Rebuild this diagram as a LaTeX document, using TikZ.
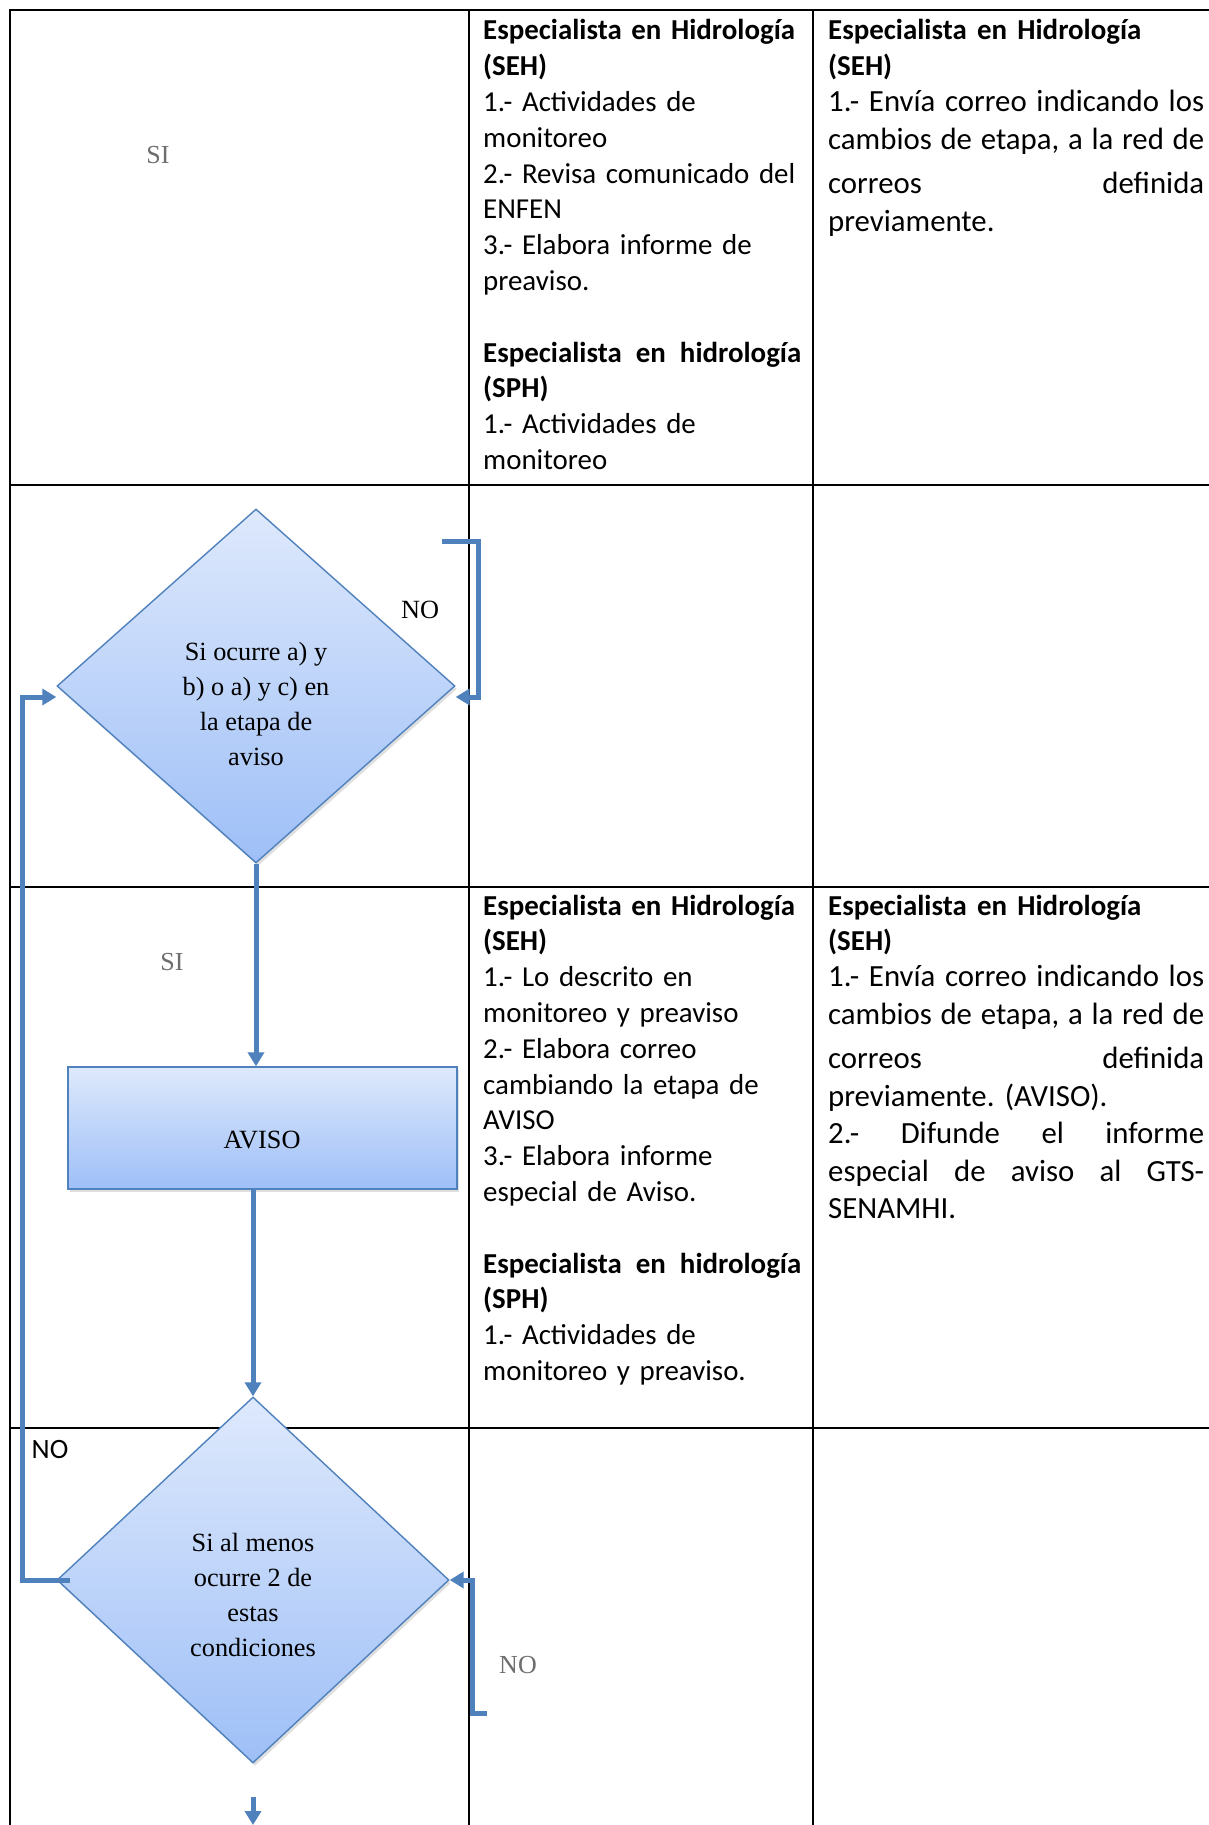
\documentclass[tikz,border=0pt]{standalone}
\usepackage{fontspec}
\setmainfont{Liberation Serif}
\newfontfamily\cellfont{Carlito}
\usetikzlibrary{arrows.meta,shapes.geometric,shadows}
\definecolor{flowblue}{RGB}{79,129,189}
\definecolor{shadetop}{RGB}{222,233,252}
\definecolor{shadebot}{RGB}{158,191,247}
\definecolor{labelgray}{RGB}{110,110,110}
\newcommand{\headline}[1]{{\fontsize{28.9pt}{37.5pt}\selectfont\bfseries #1}}
\begin{document}
\begin{tikzpicture}[x=1pt,y=-1pt,
  tableline/.style={line width=2.6pt},
  flow/.style={flowblue,line width=5pt,-{Triangle[length=14pt,width=16pt]}},
  shapefill/.style={draw=flowblue,line width=1.4pt,top color=shadetop,bottom color=shadebot,
    drop shadow={opacity=0.25,shadow xshift=2pt,shadow yshift=-3pt}},
  decision/.style={shapefill,diamond,inner sep=0pt},
  process/.style={shapefill,rectangle,inner sep=0pt,minimum width=389pt,minimum height=122pt},
  cell/.style={anchor=base west,inner sep=0pt,font={\cellfont\fontsize{28.9pt}{35.8pt}\selectfont\frenchspacing}},
  note/.style={cell,text width=376pt,font={\cellfont\fontsize{30.8pt}{37.5pt}\selectfont\frenchspacing}},
  serif/.style={inner sep=0pt,align=center,font={\fontsize{26.3pt}{35pt}\selectfont}},
  tag/.style={inner sep=0pt,text=labelgray,font={\fontsize{26pt}{30pt}\selectfont}}]
\useasboundingbox (0,0) rectangle (1209,1825);
\fill[white] (0,0) rectangle (1209,1825);
\draw[tableline] (1209,10) -- (10,10) -- (10,1825);
\draw[tableline] (469,10) -- (469,1825);
\draw[tableline] (813,10) -- (813,1825);
\foreach \y in {485,887,1428}
  \draw[tableline] (10,\y) -- (1209,\y);
\node[cell,text width=318pt] (seh1) at (483,40) {\textbf{Especialista en Hidrología}\\
\textbf{(SEH)}\\
1.- Actividades de\\
monitoreo\\
2.- Revisa comunicado del\\
ENFEN\\
3.- Elabora informe de\\
preaviso.\\[35.8pt]
\textbf{Especialista\hfill en\hfill hidrología}\\
\textbf{(SPH)}\\
1.- Actividades de\\
monitoreo};
\node[note] (red1) at (828,40) {\headline{Especialista en Hidrología}\\[-1.7pt]
\headline{(SEH)}\\[-1.7pt]
1.-\hfill Envía\hfill correo\hfill indicando\hfill los\\
cambios\hfill de\hfill etapa,\hfill a\hfill la\hfill red\hfill de\\[7pt]
correos\hfill definida\\
previamente.};
\node[cell,text width=318pt] (seh3) at (483,915) {\textbf{Especialista en Hidrología}\\
\textbf{(SEH)}\\
1.- Lo descrito en\\
monitoreo y preaviso\\
2.- Elabora correo\\
cambiando la etapa de\\
AVISO\\
3.- Elabora informe\\
especial de Aviso.\\[35.8pt]
\textbf{Especialista\hfill en\hfill hidrología}\\
\textbf{(SPH)}\\
1.- Actividades de\\
monitoreo y preaviso.};
\node[note] (red3) at (828,915) {\headline{Especialista en Hidrología}\\[-1.7pt]
\headline{(SEH)}\\[-1.7pt]
1.-\hfill Envía\hfill correo\hfill indicando\hfill los\\
cambios\hfill de\hfill etapa,\hfill a\hfill la\hfill red\hfill de\\[7pt]
correos\hfill definida\\
previamente. (AVISO).\\
2.-\hfill Difunde\hfill el\hfill informe\\
especial\hfill de\hfill aviso\hfill al\hfill GTS-\\
SENAMHI.};
\node[decision,minimum width=398pt,minimum height=354pt] (d1) at (256,686) {};
\node[process] (aviso) at (262.5,1128) {};
\node[decision,minimum width=392pt,minimum height=366pt] (d2) at (253,1580) {};
\node[serif] (t1) at (256,704) {Si ocurre a) y\\ b) o a) y c) en\\ la etapa de\\ aviso};
\node[serif] (tav) at (262,1140) {AVISO};
\node[serif] (t2) at (253,1595) {Si al menos\\ ocurre 2 de\\ estas\\ condiciones};
\node[tag] (si1) at (158,155) {SI};
\node[tag] (si2) at (172,962) {SI};
\node[serif] (no1) at (420,610) {NO};
\node[cell,anchor=center,font={\cellfont\fontsize{28pt}{30pt}\selectfont}] (no2) at (50,1449) {NO};
\node[tag] (no3) at (518,1665) {NO};
\draw[flow] (d1.south) -- (d1.south |- aviso.north);
\draw[flow] (aviso.south -| d2.north) -- (d2.north);
\coordinate (back1) at (442,541);
\draw[flow] (back1) -| ([xshift=23pt,yshift=-11pt]d1.east) -- ([yshift=-11pt]d1.east);
\draw[flow] ([xshift=14pt]d2.west) -| ([xshift=-34pt,yshift=-11pt]d1.west) -- ([yshift=-11pt]d1.west);
\coordinate (back2) at (487,1713);
\draw[flow] (back2) -| ([xshift=23pt]d2.east) -- (d2.east);
\coordinate (exit) at (253,1797);
\draw[flow] (exit) -- (253,1825);
\end{tikzpicture}
\end{document}
